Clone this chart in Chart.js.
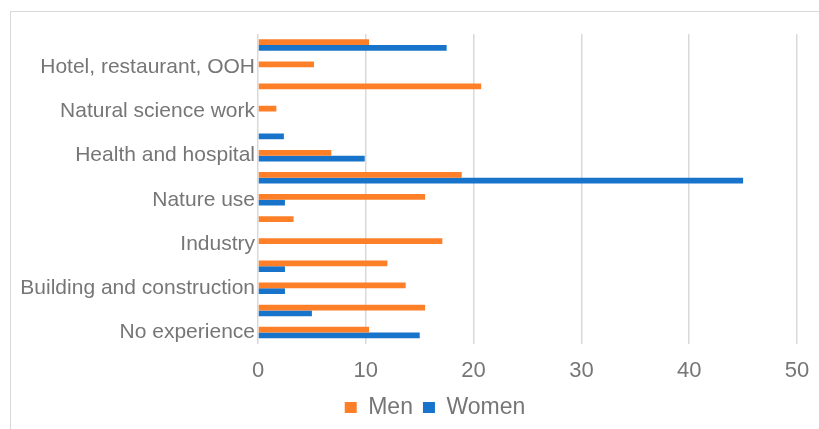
<!DOCTYPE html>
<html>
<head>
<meta charset="utf-8">
<script src="https://cdn.jsdelivr.net/npm/chart.js@4"></script>
<style>
  body { margin:0; background:#fff; overflow:hidden; }
  #frame { position:absolute; left:10px; top:11px; width:1000px; height:600px; border:1px solid #d9d9d9; }
  #wrap { position:absolute; left:0; top:0; width:870px; height:429px; }
</style>
</head>
<body>
<div id="frame"></div>
<div id="wrap"><canvas id="myChart"></canvas></div>
<script>
// categories from top to bottom (unreadable labels left blank)
var categories=['','Hotel, restaurant, OOH','','Natural science work','','Health and hospital','','Nature use','','Industry','','Building and construction','','No experience'];
var men=[10.3,5.2,20.7,1.7,0,6.8,18.9,15.5,3.3,17.1,12.0,13.7,15.5,10.3];
var women=[17.5,0,0,0,2.4,9.9,45.0,2.5,0,0,2.5,2.5,5.0,15.0];
var xTicks=[0,10,20,30,40,50];

var grey='#767676';
var ctx=document.querySelector("#myChart").getContext("2d");
var myChart=new Chart(ctx,{
    type:"bar",
    data:{
        labels:categories,
        datasets:[{
          label:'Men',
          data:men,
          backgroundColor:'#FD7F28',
          yAxisID:'y'
        },
        {
          label:'Women',
          data:women,
          backgroundColor:'#1874CB',
          yAxisID:'y'
        }]
    },
    options:{
        indexAxis:'y',
        responsive:true,
        maintainAspectRatio:false,
        animation:false,
        datasets:{
          bar:{categoryPercentage:0.52,barPercentage:1}
        },
        layout:{
          padding:{top:34,left:0,right:0,bottom:0}
        },
        scales:{
          x:{
            min:xTicks[0],
            max:xTicks[xTicks.length-1],
            ticks:{stepSize:10,color:grey,padding:14,font:{family:'Liberation Sans, Arial, sans-serif',size:22}},
            grid:{color:'#d9d9d9',lineWidth:1.5,drawTicks:false},
            border:{display:false},
            afterFit:function(s){s.height=s.height-12;}
          },
          y:{
            ticks:{autoSkip:false,color:grey,padding:3,font:{family:'Liberation Sans, Arial, sans-serif',size:21}},
            grid:{display:false,drawTicks:false},
            border:{display:false},
            afterFit:function(s){s.width=258;}
          },
          yRight:{
            position:'right',
            type:'linear',
            ticks:{display:false},
            grid:{display:false,drawTicks:false},
            border:{display:false},
            afterFit:function(s){s.width=73;}
          }
        },
        plugins:{
          legend:{
            position:'bottom',
            labels:{boxWidth:12,boxHeight:11,color:grey,padding:10,font:{family:'Liberation Sans, Arial, sans-serif',size:23}}
          },
          tooltip:{enabled:false}
        }
    }
})
</script>
</body>
</html>
